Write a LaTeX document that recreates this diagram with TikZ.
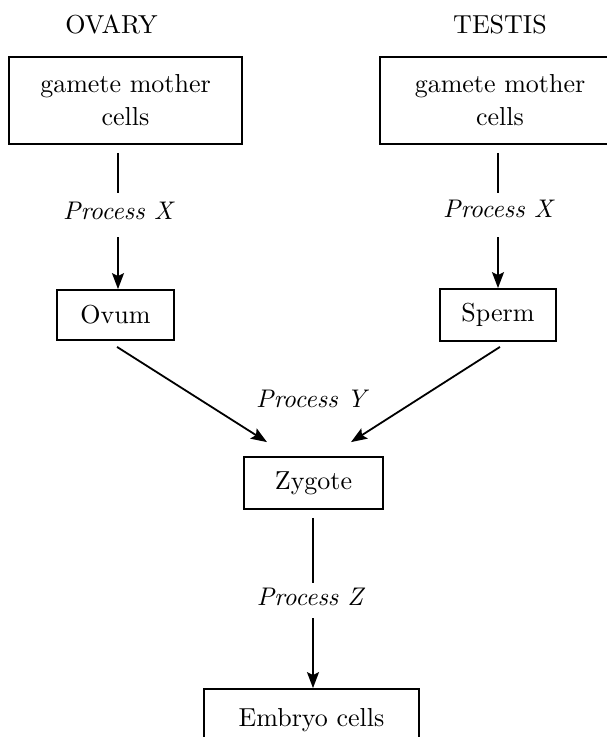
\documentclass[tikz,border=0pt]{standalone}
\usepackage{fontspec}
\setmainfont{lmroman10}[Extension=.otf, UprightFont=*-regular, ItalicFont=*-italic, BoldFont=*-bold]
\usetikzlibrary{arrows.meta}
\begin{document}
\begin{tikzpicture}[x=1pt,y=-1pt,
  every node/.style={font=\fontsize{26}{33}\selectfont, inner sep=0pt},
  box/.style={draw, line width=1.8pt, align=center},
  lbl/.style={font=\fontsize{25.5}{33}\selectfont\itshape, anchor=base, text height=17pt, text depth=0pt},
  conn/.style={line width=1.8pt},
  arr/.style={line width=1.8pt, -{Stealth[length=16pt,width=12pt,inset=3pt]}}]
\useasboundingbox (0,0) rectangle (607,737);
\clip (0,0) rectangle (607,737);
% headings
\node[anchor=base] (ovary) at (111.5,33) {OVARY};
\node[anchor=base] (testis) at (500,33) {TESTIS};
% boxes
\node[box, minimum width=233pt, minimum height=87pt] (gL) at (125.5,100.5) {gamete mother\\cells};
\node[box, minimum width=240pt, minimum height=87pt] (gR) at (500,100.5) {gamete mother\\cells};
\node[box, minimum width=117pt, minimum height=50pt] (ovum) at (115.5,315) {Ovum};
\node[box, minimum width=116pt, minimum height=52pt] (sperm) at (498,315) {Sperm};
\node[box, minimum width=139pt, minimum height=52pt] (zyg) at (313.5,483) {Zygote};
\node[box, minimum width=215pt, minimum height=62pt] (emb) at (311.5,720) {Embryo cells};
% labels
\node[lbl] (pxL) at (118,219) {Process X};
\node[lbl] (pxR) at (498,217) {Process X};
\node[lbl] (pY) at (311,407) {Process Y};
\node[lbl] (pZ) at (310,605) {Process Z};
% connectors
\draw[conn, shorten <=8pt, shorten >=9pt] (gL.south -| pxL.north) -- (pxL.north);
\draw[arr, shorten <=18pt] (pxL.south) -- (ovum.north -| pxL.south);
\draw[conn, shorten <=8pt, shorten >=7pt] (gR.south -| pxR.north) -- (pxR.north);
\draw[arr, shorten <=20pt] (pxR.south) -- (sperm.north -| pxR.south);
\draw[arr] ([xshift=1.5pt,yshift=-6pt]ovum.south) -- ([xshift=-46.5pt,yshift=14pt]zyg.north);
\draw[arr] ([xshift=2pt,yshift=-5pt]sperm.south) -- ([xshift=37.5pt,yshift=14pt]zyg.north);
\draw[conn, shorten <=8pt, shorten >=5pt] (zyg.south -| pZ.north) ++(3,0) -- ([xshift=3pt]pZ.north);
\draw[arr, shorten <=13pt] ([xshift=3pt]pZ.south) -- ([xshift=3pt]emb.north -| pZ.south);
\end{tikzpicture}
\end{document}
